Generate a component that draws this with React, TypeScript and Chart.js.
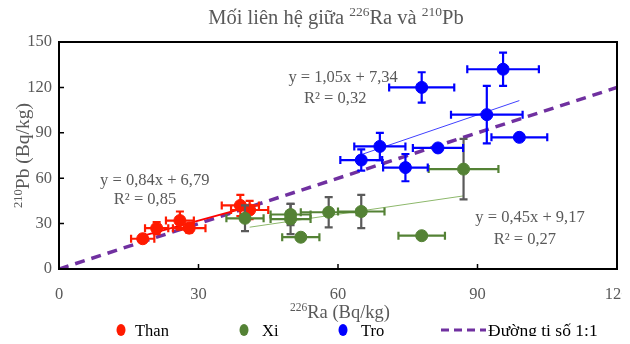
import React, { useEffect, useRef } from "react";
import { Chart, registerables } from "chart.js";
Chart.register(...registerables);

// ---- data ----
const thanX = [18, 21, 26, 28, 39, 41];
const thanY = [20, 27, 32, 27, 42, 39];
const thanXErr = [2.5, 2.5, 3, 3.5, 4, 4];
const thanYErr = [2.5, 4, 6, 3, 7, 6];

const xiX = [40, 49.8, 49.8, 52, 58, 65, 78, 87];
const xiY = [33.5, 36, 33, 21, 37.5, 38, 22, 66];
const xiXErr = [4, 4.3, 4.3, 4, 6, 5, 5, 7.5];
const xiYErr = [8.5, 7, 10, 1.5, 10, 11, 1.5, 20];

const troX = [65, 69, 74.5, 78, 81.5, 92, 95.5, 99];
const troY = [72, 81, 67, 120, 80, 102, 132, 87];
const troXErr = [4.5, 5.5, 4.8, 7, 5.4, 7.7, 7.7, 6];
const troYErr = [7, 9, 9, 10, 1.5, 19, 11, 1.5];

// trend lines: slope, intercept, x-range
const thanTrend = { slope: 0.84, intercept: 6.79, from: 18, to: 41 };
const xiTrend = { slope: 0.45, intercept: 9.17, from: 41, to: 87 };
const troTrend = { slope: 1.05, intercept: 7.34, from: 65, to: 99 };

const ratioX = [0, 120];
const ratioY = [0, 120];

const xTicks = [0, 30, 60, 90, 120];
const yTicks = [0, 30, 60, 90, 120, 150];

const eqText = ["y = 0,84x + 6,79", "R² = 0,85", "y = 1,05x + 7,34", "R² = 0,32", "y = 0,45x + 9,17", "R² = 0,27"];
const eqX = [20.6, 18.5, 61.1, 59.4, 101.3, 100.2];
const eqY = [58.2, 45.6, 126.2, 112.4, 33.7, 19.2];

const FONT = "'Liberation Serif', 'Times New Roman', serif";
const C_RED = "#FF1A00";
const C_GREEN = "#548235";
const C_BLUE = "#0000FF";
const C_PURPLE = "#7030A0";
const C_TEXT = "#595959";

const pts = (xs: number[], ys: number[]) => xs.map((x, i) => ({ x, y: ys[i] }));
const trendPts = (t: { slope: number; intercept: number; from: number; to: number }) => [
  { x: t.from, y: t.slope * t.from + t.intercept },
  { x: t.to, y: t.slope * t.to + t.intercept },
];

type Part = { t: string; sup?: boolean };
const supSize = (size: number) => Math.round(size * 0.62) + 0.5;
function measureRich(ctx: CanvasRenderingContext2D, parts: Part[], size: number) {
  let w = 0;
  for (const p of parts) {
    ctx.font = `${p.sup ? supSize(size) : size}px ${FONT}`;
    w += ctx.measureText(p.t).width;
  }
  return w;
}
function drawRich(ctx: CanvasRenderingContext2D, parts: Part[], x: number, y: number, size: number, color: string, align: "center" | "left") {
  const w = measureRich(ctx, parts, size);
  let cx = align === "center" ? x - w / 2 : x;
  ctx.fillStyle = color;
  ctx.textBaseline = "alphabetic";
  ctx.textAlign = "left";
  for (const p of parts) {
    const s = p.sup ? supSize(size) : size;
    ctx.font = `${s}px ${FONT}`;
    ctx.fillText(p.t, cx, p.sup ? y - size * 0.38 : y);
    cx += ctx.measureText(p.t).width;
  }
}

const errorSets: Record<number, { xs: number[]; ys: number[]; xe: number[]; ye: number[]; hc: string; vc: string }> = {
  4: { xs: thanX, ys: thanY, xe: thanXErr, ye: thanYErr, hc: C_RED, vc: C_RED },
  5: { xs: xiX, ys: xiY, xe: xiXErr, ye: xiYErr, hc: C_GREEN, vc: "#5a5a5a" },
  6: { xs: troX, ys: troY, xe: troXErr, ye: troYErr, hc: C_BLUE, vc: C_BLUE },
};

const decoPlugin = {
  id: "deco",
  beforeDatasetDraw(chart: any, args: any) {
    const e = errorSets[args.index];
    if (!e) return;
    const ctx = chart.ctx as CanvasRenderingContext2D;
    const xs = chart.scales.x, ys = chart.scales.y;
    const cap = 4;
    ctx.save();
    ctx.lineWidth = 2.2;
    e.xs.forEach((x, i) => {
      const y = e.ys[i];
      const px = xs.getPixelForValue(x), py = ys.getPixelForValue(y);
      const x1 = xs.getPixelForValue(x - e.xe[i]), x2 = xs.getPixelForValue(x + e.xe[i]);
      ctx.strokeStyle = e.hc;
      ctx.beginPath();
      ctx.moveTo(x1, py); ctx.lineTo(x2, py);
      ctx.moveTo(x1, py - cap); ctx.lineTo(x1, py + cap);
      ctx.moveTo(x2, py - cap); ctx.lineTo(x2, py + cap);
      ctx.stroke();
      const y1 = ys.getPixelForValue(y - e.ye[i]), y2 = ys.getPixelForValue(y + e.ye[i]);
      ctx.strokeStyle = e.vc;
      ctx.beginPath();
      ctx.moveTo(px, y1); ctx.lineTo(px, y2);
      ctx.moveTo(px - cap, y1); ctx.lineTo(px + cap, y1);
      ctx.moveTo(px - cap, y2); ctx.lineTo(px + cap, y2);
      ctx.stroke();
    });
    ctx.restore();
  },
  afterDraw(chart: any) {
    const ctx = chart.ctx as CanvasRenderingContext2D;
    const a = chart.chartArea;
    const xs = chart.scales.x, ys = chart.scales.y;
    ctx.save();
    // border box
    ctx.strokeStyle = "#000";
    ctx.lineWidth = 2;
    ctx.strokeRect(a.left, a.top, a.right - a.left, a.bottom - a.top);
    // inward tick marks
    ctx.lineWidth = 1.5;
    ctx.beginPath();
    xTicks.slice(1, -1).forEach((v) => {
      const px = xs.getPixelForValue(v);
      ctx.moveTo(px, a.bottom); ctx.lineTo(px, a.bottom - 5);
    });
    yTicks.slice(1, -1).forEach((v) => {
      const py = ys.getPixelForValue(v);
      ctx.moveTo(a.left, py); ctx.lineTo(a.left + 5, py);
    });
    ctx.stroke();
    // equations
    eqText.forEach((t, i) => {
      const px = xs.getPixelForValue(eqX[i]);
      const py = ys.getPixelForValue(eqY[i]);
      ctx.font = `16.5px ${FONT}`;
      ctx.fillStyle = C_TEXT;
      ctx.textAlign = "center";
      ctx.textBaseline = "middle";
      ctx.fillText(t, px, py);
    });
    // title
    drawRich(ctx, [{ t: "Mối liên hệ giữa " }, { t: "226", sup: true }, { t: "Ra và " }, { t: "210", sup: true }, { t: "Pb" }], 328, 16, 20.5, "#595959", "center");
    // x axis title
    drawRich(ctx, [{ t: "226", sup: true }, { t: "Ra (Bq/kg)" }], 332, 310, 18.5, C_TEXT, "center");
    // y axis title
    ctx.save();
    ctx.translate(21, (a.top + a.bottom) / 2);
    ctx.rotate(-Math.PI / 2);
    drawRich(ctx, [{ t: "210", sup: true }, { t: "Pb (Bq/kg)" }], 0, 0, 19.5, C_TEXT, "center");
    ctx.restore();
    // legend
    const ly = 322;
    const dot = (cx: number, color: string) => {
      ctx.fillStyle = color;
      ctx.beginPath();
      ctx.ellipse(cx, ly, 4.5, 6, 0, 0, Math.PI * 2);
      ctx.fill();
    };
    dot(113, C_RED);
    drawRich(ctx, [{ t: "Than" }], 127, ly + 6, 16.5, "#000", "left");
    dot(236, C_GREEN);
    drawRich(ctx, [{ t: "Xi" }], 254, ly + 6, 16.5, "#000", "left");
    dot(335, C_BLUE);
    drawRich(ctx, [{ t: "Tro" }], 353, ly + 6, 16.5, "#000", "left");
    ctx.strokeStyle = C_PURPLE;
    ctx.lineWidth = 3;
    ctx.setLineDash([8, 5]);
    ctx.beginPath();
    ctx.moveTo(433, ly); ctx.lineTo(478, ly);
    ctx.stroke();
    ctx.setLineDash([]);
    drawRich(ctx, [{ t: "Đường ti số 1:1" }], 480, ly + 6, 17.5, "#000", "left");
    ctx.restore();
  },
};

export default function App() {
  const ref = useRef<HTMLCanvasElement | null>(null);
  useEffect(() => {
    if (!ref.current) return;
    const tickFont = { family: FONT, size: 16.5 };
    const chart = new Chart(ref.current, {
      type: "scatter",
      data: {
        datasets: [
          {
            type: "line",
            label: "Đường tỉ số 1:1",
            data: pts(ratioX, ratioY),
            borderColor: C_PURPLE,
            borderWidth: 3.5,
            borderDash: [10, 7],
            pointRadius: 0,
            order: 10,
          } as any,
          { type: "line", label: "tThan", data: trendPts(thanTrend), borderColor: "#FF0000", borderWidth: 2, pointRadius: 0, order: 9 } as any,
          { type: "line", label: "tXi", data: trendPts(xiTrend), borderColor: "#8DB86B", borderWidth: 1, pointRadius: 0, order: 8 } as any,
          { type: "line", label: "tTro", data: trendPts(troTrend), borderColor: "#4040FF", borderWidth: 1, pointRadius: 0, order: 7 } as any,
          { label: "Than", data: pts(thanX, thanY), backgroundColor: C_RED, borderColor: C_RED, pointRadius: 6, order: 4 },
          { label: "Xi", data: pts(xiX, xiY), backgroundColor: C_GREEN, borderColor: C_GREEN, pointRadius: 6, order: 3 },
          { label: "Tro", data: pts(troX, troY), backgroundColor: C_BLUE, borderColor: C_BLUE, pointRadius: 6, order: 2 },
        ],
      },
      options: {
        animation: false,
        responsive: false,
        layout: { padding: { left: 0, right: 13, top: 34, bottom: 0 } },
        plugins: { legend: { display: false }, tooltip: { enabled: false }, title: { display: false } },
        scales: {
          x: {
            type: "linear",
            min: 0,
            max: 120,
            afterBuildTicks: (s: any) => { s.ticks = xTicks.map((v) => ({ value: v })); },
            ticks: { font: tickFont, color: C_TEXT, padding: 16, maxRotation: 0 },
            grid: { display: false, drawTicks: false },
            border: { display: false },
            afterFit: (s: any) => { s.height = 67; s.paddingLeft = 0; s.paddingRight = 0; },
          },
          y: {
            type: "linear",
            min: 0,
            max: 150,
            afterBuildTicks: (s: any) => { s.ticks = yTicks.map((v) => ({ value: v })); },
            ticks: { font: tickFont, color: C_TEXT, padding: 7 },
            grid: { display: false, drawTicks: false },
            border: { display: false },
            afterFit: (s: any) => { s.width = 51; s.paddingTop = 0; s.paddingBottom = 0; },
          },
        },
      } as any,
      plugins: [decoPlugin],
    });
    return () => chart.destroy();
  }, []);
  return (
    <div style={{ width: 622, height: 328 }}>
      <canvas ref={ref} width={622} height={328} style={{ display: "block", width: 622, height: 328 }} />
    </div>
  );
}
